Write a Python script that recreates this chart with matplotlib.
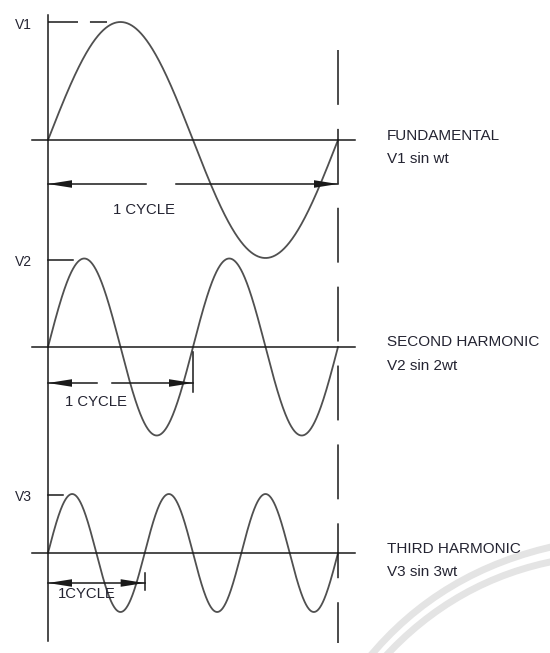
"""
Fundamental, second and third harmonic sketch, drawn in pixel space.
"""

import matplotlib
matplotlib.use("Agg")
import matplotlib.pyplot as plt
import numpy as np
from matplotlib.patches import Polygon, PathPatch
from matplotlib.path import Path

# ── data ────────────────────────────────────────────────────────────────────
harmonic_order = [1, 2, 3]
relative_amplitude = [1.0, 0.75, 0.5]
amp_labels = ["V1", "V2", "V3"]
wave_names = ["FUNDAMENTAL", "SECOND HARMONIC", "THIRD HARMONIC"]
wave_formulas = ["V1 sin wt", "V2 sin 2wt", "V3 sin 3wt"]
cycle_labels = ["1 CYCLE", "1 CYCLE", "1CYCLE"]

# ── layout (pixels, image coordinates) ──────────────────────────────────────
W, H = 550, 653
X0, X1 = 48, 338            # one fundamental period
BASES = [140, 347, 553]      # zero line of each wave
A_PX = 118                   # pixel height of amplitude 1.0
ARROW_Y = [184, 383, 583]
ARROW_GAP = [(146, 176), (97, 112), None]
TICK_SPAN = [None, (352, 392), (573, 590)]
LABEL_XY = [(113, 214), (65, 406), (58, 598)]

INK = "#1a1a1a"
WAVE = "#505050"
TXT = "#242432"
FONT = "Liberation Sans"

plt.rcParams["lines.scale_dashes"] = False


def arrowhead(ax, x_tip, y, direction, length=24, half=3.8):
    pts = [(x_tip, y), (x_tip - direction * length, y - half),
           (x_tip - direction * length, y + half)]
    ax.add_patch(Polygon(pts, closed=True, color=INK, lw=0, zorder=4))


fig = plt.figure(figsize=(W / 100, H / 100), dpi=100)
ax = fig.add_axes([0, 0, 1, 1])
ax.set_xlim(0, W)
ax.set_ylim(H, 0)
ax.set_axis_off()

# faint watermark arcs in the lower right
for off in (0, 15):
    verts = [(367 + off, 660), (440 + off, 570 + off * 0.6), (560, 545 + off)]
    path = Path(verts, [Path.MOVETO, Path.CURVE3, Path.CURVE3])
    ax.add_patch(PathPatch(path, fill=False, ec="#e4e4e4", lw=5, zorder=0))

# common vertical axis and dashed end-of-cycle line
ax.plot([X0, X0], [15, 641], color=INK, lw=1.1, zorder=3)
ax.plot([X1, X1], [50, 643], color=INK, lw=1.1, zorder=3,
        dashes=(39.5, 17.3))

wt = np.linspace(0, 2 * np.pi, 800)
xs = X0 + (X1 - X0) * wt / (2 * np.pi)

for i, n in enumerate(harmonic_order):
    base = BASES[i]
    amp = relative_amplitude[i] * A_PX
    ys = base - amp * np.sin(n * wt)
    ax.plot(xs, ys, color=WAVE, lw=1.3, zorder=2)

    # zero line
    ax.plot([32, 355], [base, base], color=INK, lw=1.1, zorder=3)

    # amplitude marker
    peak_x = X0 + (X1 - X0) / (4 * n)
    if i == 0:
        ax.plot([X0, peak_x - 14], [base - amp, base - amp], color=INK,
                lw=1.1, dashes=(21.6, 8.6), zorder=3)
    else:
        ax.plot([X0, X0 + (peak_x - X0) * (0.68 if i == 1 else 0.6)],
                [base - amp + 1, base - amp + 1], color=INK, lw=1.1, zorder=3)
    ax.text(15, base - amp + 3, amp_labels[i], fontsize=10, family=FONT,
            color=TXT, ha="left", va="center")

    # one-cycle dimension arrow
    x_end = X0 + (X1 - X0) / n
    y = ARROW_Y[i]
    gap = ARROW_GAP[i]
    if gap:
        ax.plot([X0, gap[0]], [y, y], color=INK, lw=1.1, zorder=3)
        ax.plot([gap[1], x_end], [y, y], color=INK, lw=1.1, zorder=3)
    else:
        ax.plot([X0, x_end], [y, y], color=INK, lw=1.1, zorder=3)
    arrowhead(ax, X0, y, -1)
    arrowhead(ax, x_end, y, 1)
    if TICK_SPAN[i]:
        ax.plot([x_end, x_end], TICK_SPAN[i], color=INK, lw=1.1, zorder=3)
    lx, ly = LABEL_XY[i]
    ax.text(lx, ly, cycle_labels[i], fontsize=10.7, family=FONT, color=TXT,
            ha="left", va="baseline", zorder=5)

    # right-hand captions
    ax.text(387, base + (0 if i != 1 else -1), wave_names[i], fontsize=11,
            family=FONT, color=TXT, ha="left", va="baseline")
    ax.text(387, base + 23, wave_formulas[i], fontsize=11, family=FONT,
            color=TXT, ha="left", va="baseline")

fig.savefig("out.png", dpi=100, facecolor="white")
plt.close(fig)
